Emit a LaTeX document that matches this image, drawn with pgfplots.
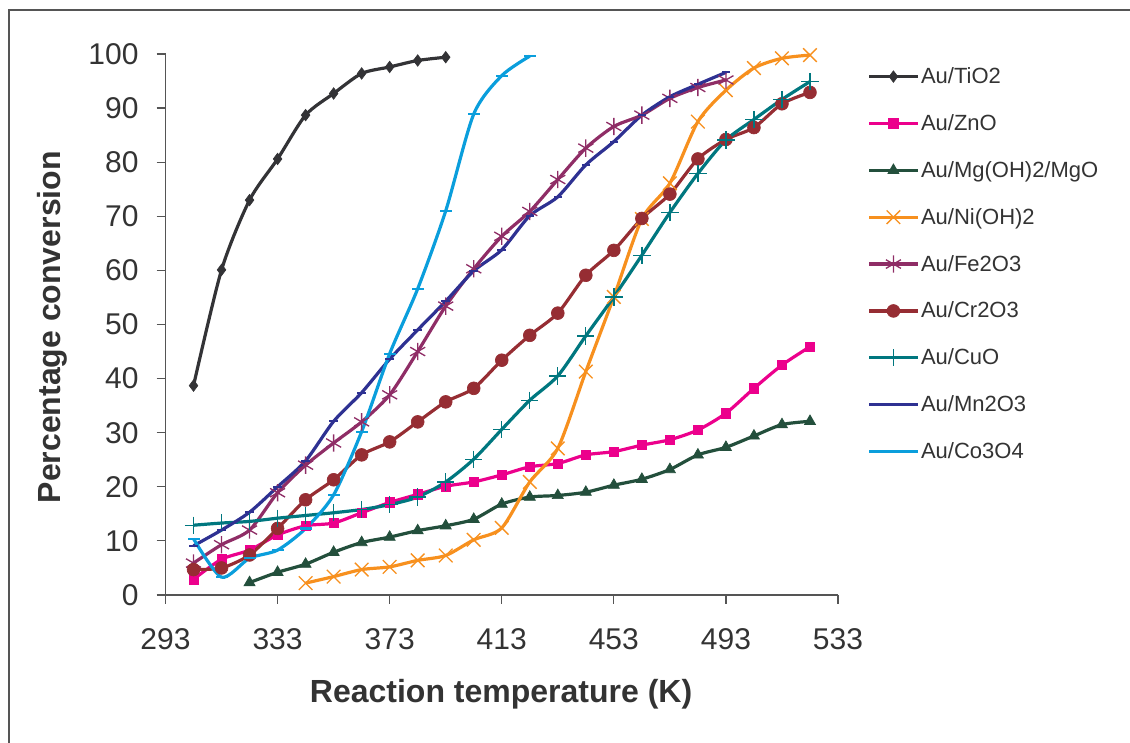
\documentclass[border=0pt]{standalone}
\usepackage{pgfplots}
\pgfplotsset{compat=1.18}
\usepackage{fontspec}
\setmainfont{Liberation Sans}
\definecolor{cTi}{HTML}{333336}
\definecolor{cZn}{HTML}{EC008C}
\definecolor{cMg}{HTML}{234F3C}
\definecolor{cNi}{HTML}{F7901E}
\definecolor{cFe}{HTML}{8F2D66}
\definecolor{cCr}{HTML}{962D33}
\definecolor{cCu}{HTML}{00777F}
\definecolor{cMn}{HTML}{2E3192}
\definecolor{cCo}{HTML}{0A9EDC}
\definecolor{axgray}{HTML}{555555}
\begin{document}
\begin{tikzpicture}[x=0.75pt,y=0.75pt]
\useasboundingbox (0,0) rectangle (1130,742);
\draw[color=axgray, line width=1.2pt] (9,-5) -- (9,732) -- (1140,732);
\begin{axis}[
  at={(124.125pt,110.25pt)}, anchor=south west,
  scale only axis, width=504.375pt, height=405.75pt,
  xmin=293, xmax=533, ymin=0, ymax=100,
  xtick={293,333,373,413,453,493,533},
  ytick={0,10,...,100},
  axis x line*=bottom, axis y line*=left,
  axis line style={color=axgray, line width=0.9pt},
  tick style={color=axgray, line width=0.9pt},
  tick align=outside, major tick length=6.75pt,
  every tick label/.append style={font=\fontsize{22.5pt}{24pt}\selectfont, text=black!80},
  /pgf/number format/assume math mode=true,
  /pgf/number format/set thousands separator={},
  xticklabel style={yshift=-15pt},
  yticklabel style={xshift=-10pt},
  xlabel={Reaction temperature (K)},
  ylabel={Percentage conversion},
  label style={font=\bfseries\fontsize{24pt}{26pt}\selectfont, text=black!80},
  xlabel style={at={(axis description cs:0.499,-0.183)}, anchor=center},
  ylabel style={at={(axis description cs:-0.169,0.495)}, anchor=center, rotate=0},
  legend cell align=left,
  legend style={draw=none, fill=none, at={(axis description cs:1.038,0.984)}, anchor=north west,
    font=\fontsize{16.5pt}{18pt}\selectfont, text=black!80, row sep=18.7pt,
    nodes={inner sep=1.5pt}},
  legend image code/.code={\draw[mark repeat=2,mark phase=2] plot coordinates {(0pt,0pt) (18pt,0pt) (36pt,0pt)};},
  every axis plot/.append style={line width=2.4pt, smooth, tension=0.45},
  clip=false,
]
\addplot[color=cTi, mark=diamond*, mark size=4.3pt, mark options={solid, line width=0.5pt}] coordinates {
(303,38.7) (313,60.1) (323,73.0) (333,80.6) (343,88.7) (353,92.7) (363,96.4) (373,97.6) (383,98.8) (393,99.4)};
\addlegendentry{Au/TiO2}
\addplot[color=cZn, mark=square*, mark size=3.5pt, mark options={line width=0.5pt}] coordinates {
(303,2.9) (313,6.6) (323,8.3) (333,11.1) (343,12.8) (353,13.3) (363,15.2) (373,17.1) (383,18.6) (393,20.1)
(403,20.9) (413,22.2) (423,23.7) (433,24.3) (443,25.9) (453,26.5) (463,27.7) (473,28.7) (483,30.5) (493,33.6)
(503,38.2) (513,42.5) (523,45.9)};
\addlegendentry{Au/ZnO}
\addplot[color=cMg, mark=triangle*, mark size=4.8pt, mark options={line width=0.5pt}] coordinates {
(323,2.3) (333,4.2) (343,5.7) (353,7.9) (363,9.7) (373,10.7) (383,11.9) (393,12.8) (403,14.0) (413,16.8)
(423,18.1) (433,18.4) (443,19.0) (453,20.3) (463,21.4) (473,23.2) (483,25.9) (493,27.3) (503,29.4) (513,31.5) (523,32.1)};
\addlegendentry{Au/Mg(OH)2/MgO}
\addplot[color=cNi, mark=x, mark size=7.2pt, mark options={line width=1pt}] coordinates {
(343,2.2) (353,3.4) (363,4.7) (373,5.2) (383,6.4) (393,7.3) (403,10.2) (413,12.4) (423,20.9) (433,27.1)
(443,41.3) (453,55.1) (463,69.5) (473,76.1) (483,87.5) (493,93.3) (503,97.4) (513,99.2) (523,99.8)};
\addlegendentry{Au/Ni(OH)2}
\addplot[color=cFe, mark=asterisk, mark size=6.5pt, mark options={line width=1pt}] coordinates {
(303,5.9) (313,9.3) (323,12.0) (333,18.9) (343,24.0) (353,28.1) (363,32.0) (373,37.0) (383,45.0) (393,53.4)
(403,60.3) (413,66.3) (423,70.9) (433,76.8) (443,82.6) (453,86.6) (463,88.7) (473,91.8) (483,93.8) (493,95.2)};
\addlegendentry{Au/Fe2O3}
\addplot[color=cCr, mark=*, mark size=4.8pt, mark options={line width=0.5pt}] coordinates {
(303,4.7) (313,5.0) (323,7.4) (333,12.3) (343,17.6) (353,21.3) (363,25.9) (373,28.3) (383,32.0) (393,35.7)
(403,38.2) (413,43.4) (423,48.0) (433,52.1) (443,59.1) (453,63.7) (463,69.6) (473,74.1) (483,80.6) (493,84.2)
(503,86.4) (513,90.8) (523,92.9)};
\addlegendentry{Au/Cr2O3}
\addplot[color=cCu, mark=+, mark size=6.5pt, mark options={line width=1pt}] coordinates {
(303,12.9) (313,13.3) (323,13.6) (333,14.2) (343,14.7) (353,15.2) (363,15.8) (373,16.7) (383,18.1) (393,20.9)
(403,25.1) (413,30.6) (423,36.0) (433,40.5) (443,47.9) (453,55.1) (463,62.8) (473,70.7) (483,77.9) (493,84.1)
(503,87.9) (513,91.6) (523,94.9)};
\addlegendentry{Au/CuO}
\addplot[color=cMn, mark=-, mark size=3.2pt, mark options={line width=1.6pt}] coordinates {
(303,9.1) (313,12.0) (323,15.3) (333,20.0) (343,24.8) (353,32.1) (363,37.4) (373,43.6) (383,49.0) (393,54.3)
(403,59.9) (413,63.8) (423,70.1) (433,73.6) (443,79.5) (453,83.8) (463,88.7) (473,92.1) (483,94.4) (493,96.6)};
\addlegendentry{Au/Mn2O3}
\addplot[color=cCo, mark=-, mark size=4.5pt, mark options={line width=1.6pt}] coordinates {
(303,10.4) (313,3.3) (323,6.8) (333,8.3) (343,12.3) (353,18.5) (363,30.2) (373,44.6) (383,56.6) (393,71.0)
(403,88.9) (413,96.0) (423,99.6)};
\addlegendentry{Au/Co3O4}
\end{axis}
\end{tikzpicture}
\end{document}
